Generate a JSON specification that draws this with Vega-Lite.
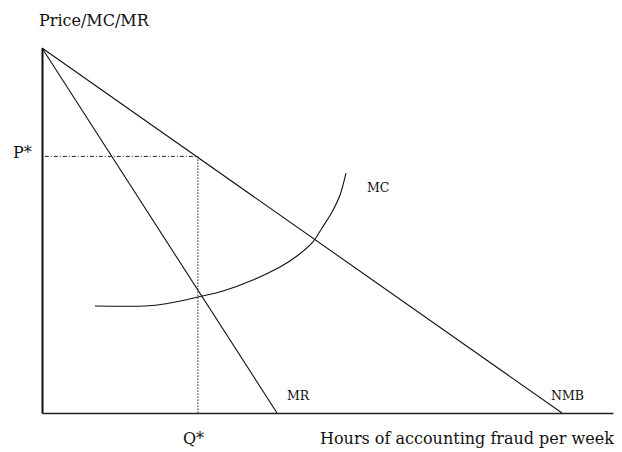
{
  "$schema": "https://vega.github.io/schema/vega-lite/v6.json",
  "width": 571,
  "height": 365,
  "autosize": {"type": "none"},
  "padding": {"left": 42, "top": 48, "right": 9, "bottom": 39},
  "background": "white",
  "config": {"view": {"stroke": null}},
  "layer": [
    {
      "data": {"values": [
        {"series": "NMB", "x": 0, "y": 100},
        {"series": "NMB", "x": 91.07, "y": 0},
        {"series": "MR", "x": 0, "y": 100},
        {"series": "MR", "x": 41.16, "y": 0}
      ]},
      "mark": {"type": "line", "color": "#111111", "strokeWidth": 1.1},
      "encoding": {
        "x": {"field": "x", "type": "quantitative", "scale": {"domain": [0, 100], "nice": false, "zero": false},
              "axis": {"title": null, "labels": false, "ticks": false, "grid": false, "domainColor": "#222222", "domainWidth": 1.6}},
        "y": {"field": "y", "type": "quantitative", "scale": {"domain": [0, 100], "nice": false, "zero": false},
              "axis": {"title": null, "labels": false, "ticks": false, "grid": false, "domainColor": "#111111", "domainWidth": 2}},
        "detail": {"field": "series"}
      }
    },
    {
      "data": {"values": [
        {"x": 9.28, "y": 29.32},
        {"x": 18.04, "y": 29.32},
        {"x": 22.42, "y": 30.14},
        {"x": 27.32, "y": 31.78},
        {"x": 31.70, "y": 33.42},
        {"x": 36.95, "y": 36.44},
        {"x": 41.68, "y": 40.0},
        {"x": 44.66, "y": 43.01},
        {"x": 47.29, "y": 46.58},
        {"x": 49.04, "y": 50.68},
        {"x": 50.79, "y": 55.07},
        {"x": 52.19, "y": 59.73},
        {"x": 53.24, "y": 65.75}
      ]},
      "mark": {"type": "line", "color": "#111111", "strokeWidth": 1.1, "interpolate": "cardinal"},
      "encoding": {
        "x": {"field": "x", "type": "quantitative"},
        "y": {"field": "y", "type": "quantitative"}
      }
    },
    {
      "data": {"values": [
        {"g": "P", "x": 0.5, "y": 70.3},
        {"g": "P", "x": 27.3, "y": 70.3},
        {"g": "Q", "x": 27.3, "y": 70.3},
        {"g": "Q", "x": 27.3, "y": 0}
      ]},
      "mark": {"type": "line", "color": "#222222", "strokeWidth": 1},
      "encoding": {
        "x": {"field": "x", "type": "quantitative"},
        "y": {"field": "y", "type": "quantitative"},
        "strokeDash": {"field": "g", "type": "nominal", "legend": null,
                       "scale": {"domain": ["P", "Q"], "range": [[4, 2, 1, 2], [1.5, 1.5]]}}
      }
    },
    {
      "data": {"values": [
        {"label": "Price/MC/MR", "x": -0.53, "y": 107.5},
        {"label": "P*", "x": -5.08, "y": 71.2},
        {"label": "Q*", "x": 24.69, "y": -7.12},
        {"label": "Hours of accounting fraud per week", "x": 48.69, "y": -7.12}
      ]},
      "mark": {"type": "text", "font": "DejaVu Serif", "fontSize": 16, "align": "left", "baseline": "middle", "color": "#111111"},
      "encoding": {
        "x": {"field": "x", "type": "quantitative"},
        "y": {"field": "y", "type": "quantitative"},
        "text": {"field": "label"}
      }
    },
    {
      "data": {"values": [
        {"label": "MC", "x": 56.92, "y": 61.64},
        {"label": "MR", "x": 42.91, "y": 4.7},
        {"label": "NMB", "x": 89.14, "y": 4.7}
      ]},
      "mark": {"type": "text", "font": "DejaVu Serif", "fontSize": 12.5, "align": "left", "baseline": "middle", "color": "#111111"},
      "encoding": {
        "x": {"field": "x", "type": "quantitative"},
        "y": {"field": "y", "type": "quantitative"},
        "text": {"field": "label"}
      }
    }
  ]
}
